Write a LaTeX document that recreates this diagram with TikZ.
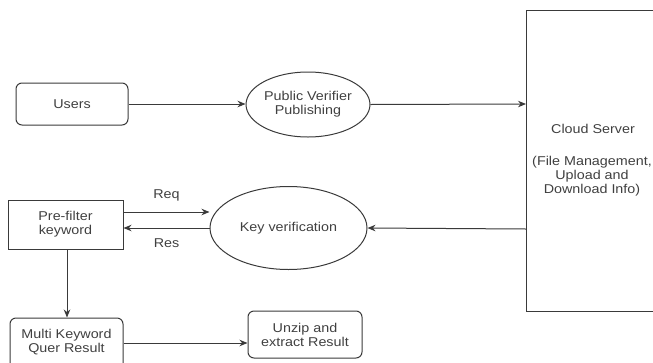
\documentclass[tikz,border=0pt]{standalone}
\usepackage{fontspec}
\setmainfont[FakeStretch=1.12]{Liberation Sans}
\usetikzlibrary{shapes.geometric,arrows.meta}
\definecolor{ink}{HTML}{3A3A3A}
\definecolor{txt}{HTML}{404040}
\tikzset{
  every node/.style={font=\fontsize{12.8}{14}\selectfont, text=txt, align=center, inner sep=0pt},
  rbox/.style={draw=ink, line width=1pt, rounded corners=6pt},
  sbox/.style={draw=ink, line width=1pt},
  oval/.style={draw=ink, line width=1pt, ellipse},
  flow/.style={draw=ink, line width=1pt, -{Stealth[length=8pt,width=6.5pt]}},
}
\begin{document}
\begin{tikzpicture}[x=1pt,y=-1pt]
  \useasboundingbox (0,0) rectangle (653,362);
  \begin{scope}
    \clip (0,0) rectangle (653,362);
    % boxes and ovals
    \node[rbox, minimum width=112pt, minimum height=42pt] (users) at (72,104) {Users};
    \node[oval, minimum width=113pt, minimum height=65pt] (pub) at (308,104.5) {Public Verifier\\Publishing};
    \draw[sbox] (526,10) rectangle (660,311);
    \coordinate (cloudW) at (526,104);
    \coordinate (cloudS) at (526,229);
    \node (cloudT) at (593,129) {Cloud Server};
    \node (cloudI) at (592,176) {(File Management,\\Upload and\\Download Info)};
    \node[oval, minimum width=157pt, minimum height=83pt] (key) at (288.5,228) {Key verification};
    \node[sbox, minimum width=115pt, minimum height=49pt] (pre) at (65.5,224.5) {Pre-filter\\keyword};
    \node[rbox, minimum width=113pt, minimum height=60pt] (multi) at (66.5,348) {};
    \node (multiT) at (66.5,342) {Multi Keyword\\Quer Result};
    \node[rbox, minimum width=114pt, minimum height=47pt] (unzip) at (305,334.5) {Unzip and\\extract Result};
    % connectors
    \draw[flow] (users.east) -- (pub.west |- users.east);
    \draw[flow] (pub.east) -- (cloudW);
    \draw[flow] (cloudS) -- (key.east);
    \draw[flow] (pre.east |- 0,212) -- (key.west |- 0,212) node[midway, above=10pt] (req) {Req};
    \draw[flow] (key.west |- 0,228) -- (pre.east |- 0,228) node[midway, below=10pt] (res) {Res};
    \draw[flow] (pre.south -| 67,0) -- (multi.north -| 67,0);
    \draw[flow] (multi.east |- 0,343) -- (unzip.west |- 0,343);
  \end{scope}
\end{tikzpicture}
\end{document}
